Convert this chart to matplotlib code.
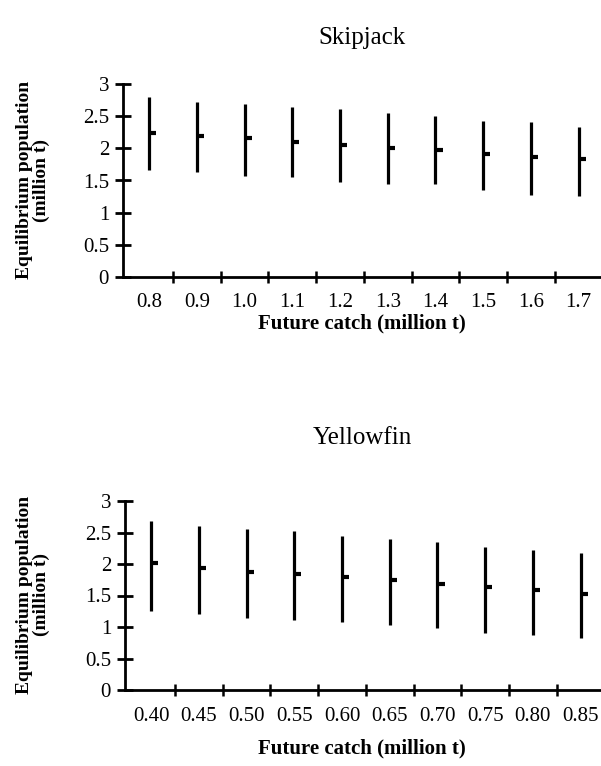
import matplotlib
matplotlib.use("Agg")
import matplotlib.pyplot as plt
import numpy as np

# Skipjack data
skj_catch = ["0.8", "0.9", "1.0", "1.1", "1.2", "1.3", "1.4", "1.5", "1.6", "1.7"]
skj_high = [2.80, 2.73, 2.70, 2.64, 2.61, 2.55, 2.51, 2.43, 2.41, 2.34]
skj_low = [1.66, 1.63, 1.57, 1.55, 1.48, 1.45, 1.45, 1.35, 1.27, 1.26]
skj_mid = [2.24, 2.19, 2.16, 2.10, 2.05, 2.00, 1.97, 1.92, 1.86, 1.83]

# Yellowfin data
yft_catch = ["0.40", "0.45", "0.50", "0.55", "0.60", "0.65", "0.70", "0.75", "0.80", "0.85"]
yft_high = [2.68, 2.61, 2.55, 2.53, 2.45, 2.39, 2.35, 2.27, 2.22, 2.18]
yft_low = [1.25, 1.21, 1.15, 1.11, 1.08, 1.03, 0.99, 0.91, 0.88, 0.82]
yft_mid = [2.01, 1.93, 1.88, 1.84, 1.79, 1.75, 1.68, 1.64, 1.58, 1.53]

y_ticks = [0, 0.5, 1, 1.5, 2, 2.5, 3]
y_ticklabels = ["0", "0.5", "1", "1.5", "2", "2.5", "3"]

W, H = 601, 766
fig = plt.figure(figsize=(W / 100, H / 100), dpi=100)
serif = "Liberation Serif"
plt.rcParams["font.family"] = serif

MID_LEN = 0.15


def panel(rect, cats, low, high, mid):
    ax = fig.add_axes(rect)
    x = np.arange(len(cats))
    ax.vlines(x, low, high, colors="black", linewidth=2.3)
    ax.hlines(mid, x, x + MID_LEN, colors="black", linewidth=3.0)
    ax.set_xlim(-0.55, len(cats) - 0.55)
    ax.set_ylim(0, 3)
    for s in ["top", "right"]:
        ax.spines[s].set_visible(False)
    for s in ["left", "bottom"]:
        ax.spines[s].set_linewidth(2.0)
    ax.set_xticks(x)
    ax.set_xticklabels(cats, fontsize=15, family=serif)
    ax.tick_params(axis="x", which="major", length=0, pad=12)
    ax.set_xticks(x[:-1] + 0.5, minor=True)
    ax.tick_params(axis="x", which="minor", direction="inout", length=9, width=1.8)
    ax.set_yticks(y_ticks)
    ax.set_yticklabels(y_ticklabels, fontsize=15, family=serif)
    ax.tick_params(axis="y", direction="inout", length=12, width=2.0, pad=4)
    return ax


ax1 = panel([123 / W, 1 - 276.7 / H, 477 / W, (276.7 - 84.3) / H],
            skj_catch, skj_low, skj_high, skj_mid)
ax2 = panel([125 / W, 1 - 690 / H, 477 / W, (690 - 501) / H],
            yft_catch, yft_low, yft_high, yft_mid)

fig.text(362 / W, 1 - 38 / H, "Skipjack", ha="center", va="center",
         fontsize=18, family=serif)
fig.text(362 / W, 1 - 438 / H, "Yellowfin", ha="center", va="center",
         fontsize=18, family=serif)

fig.text(362 / W, 1 - 323 / H, "Future catch (million t)", ha="center",
         va="center", fontsize=15, fontweight="bold", family=serif)
fig.text(362 / W, 1 - 748 / H, "Future catch (million t)", ha="center",
         va="center", fontsize=15, fontweight="bold", family=serif)

fig.text(33 / W, 1 - 180 / H, "Equilibrium population\n(million t)",
         ha="center", va="center", rotation=90, fontsize=14,
         fontweight="bold", family=serif, linespacing=1.0)
fig.text(33 / W, 1 - 595 / H, "Equilibrium population\n(million t)",
         ha="center", va="center", rotation=90, fontsize=14,
         fontweight="bold", family=serif, linespacing=1.0)

fig.savefig("out.png", dpi=100, facecolor="white")
